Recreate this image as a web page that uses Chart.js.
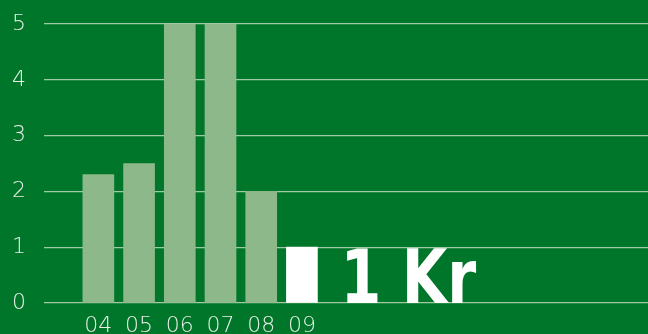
<!DOCTYPE html>
<html>
<head>
<meta charset="utf-8">
<script src="https://cdn.jsdelivr.net/npm/chart.js@4/dist/chart.umd.min.js"></script>
<style>
html,body{margin:0;padding:0;background:#00762a;}
#wrap{width:648px;height:334px;position:relative;}
</style>
</head>
<body>
<div id="wrap"><canvas id="c" width="648" height="334"></canvas></div>
<script>
const categories = ["04","05","06","07","08","09","","","","","","","",""];
const values = [2.3, 2.5, 5, 5, 2, 1];
const barColors = ["#8db88a","#8db88a","#8db88a","#8db88a","#8db88a","#ffffff"];
const yTicks = [0,1,2,3,4,5];
const calloutText = "1 Kr";

const calloutPlugin = {
  id: 'callout',
  afterDatasetsDraw(chart) {
    const meta = chart.getDatasetMeta(0);
    const bar = meta.data[5];
    const ctx = chart.ctx;
    const x0 = bar.x + bar.width/2 + 23;
    const y0 = chart.scales.y.getPixelForValue(0);
    ctx.save();
    ctx.translate(x0, y0);
    ctx.scale(0.87, 1);
    ctx.fillStyle = '#ffffff';
    ctx.font = 'bold 75px "DejaVu Sans Condensed", "DejaVu Sans", sans-serif';
    ctx.textBaseline = 'alphabetic';
    ctx.textAlign = 'left';
    ctx.fillText(calloutText, 0, 0);
    ctx.restore();
  }
};

new Chart(document.getElementById('c'), {
  type: 'bar',
  data: {
    labels: categories,
    datasets: [{
      data: values,
      backgroundColor: barColors,
      borderWidth: 0,
      barThickness: 31
    }]
  },
  options: {
    responsive: false,
    animation: false,
    layout: { padding: { top: 24, right: 0, left: 0, bottom: 0 } },
    plugins: { legend: { display: false }, tooltip: { enabled: false } },
    scales: {
      x: {
        grid: { display: false, drawTicks: false },
        border: { display: false },
        ticks: {
          color: '#e6efe6',
          padding: 10,
          maxRotation: 0,
          autoSkip: false,
          font: { family: '"DejaVu Sans", sans-serif', size: 22, weight: 200 }
        },
        afterFit(s) { s.height = 31; s.paddingLeft = 0; s.paddingRight = 0; }
      },
      y: {
        min: 0, max: 5,
        afterBuildTicks(s) { s.ticks = yTicks.map(v => ({ value: v })); },
        grid: { color: '#9fcaa3', lineWidth: 1.3, tickLength: 34, drawTicks: true },
        border: { display: false },
        ticks: {
          color: '#e6efe6',
          padding: 18,
          font: { family: '"DejaVu Sans", sans-serif', size: 22, weight: 200 }
        },
        afterFit(s) { s.width = 78; s.paddingTop = 0; s.paddingBottom = 0; }
      }
    }
  },
  plugins: [calloutPlugin]
});
</script>
</body>
</html>
